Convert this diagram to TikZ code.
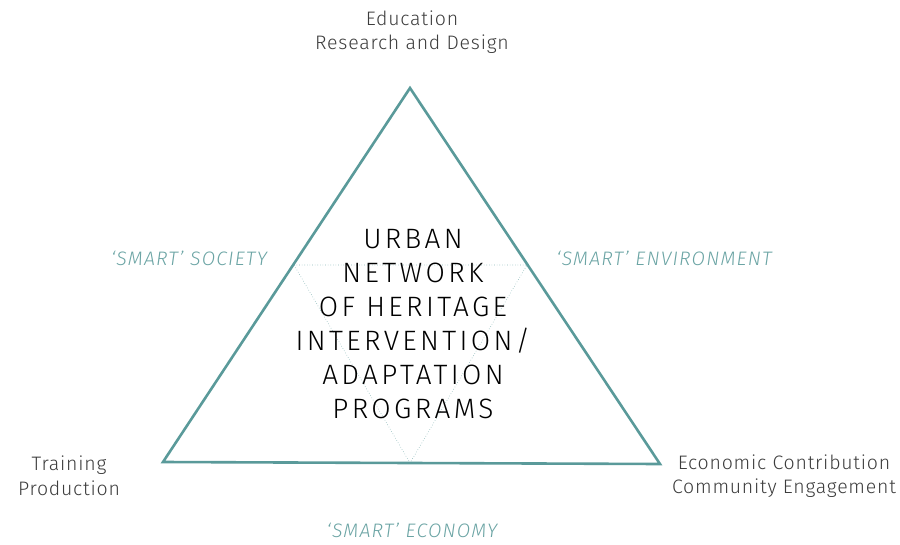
\documentclass[tikz,border=0pt]{standalone}
\usepackage{fontspec}
\setmainfont{Fira Sans}[UprightFont=* Light, ItalicFont=* Light Italic]
\definecolor{cTeal}{HTML}{5A9A9A}
\definecolor{cText}{HTML}{3C3C3C}

\begin{document}
\begin{tikzpicture}[x=1pt, y=-1pt,
    every node/.style={inner sep=0pt, outer sep=0pt},
    corner/.style={align=center, text=cText,
                   font=\fontsize{19.5}{24.5}\selectfont\addfontfeatures{LetterSpace=4}},
    smart/.style ={text=cTeal!90,
                   font=\fontsize{19.5}{22}\selectfont\itshape\addfontfeatures{LetterSpace=6}},
    hub/.style   ={align=center, text=black,
                   font=\fontsize{28}{34}\selectfont\addfontfeatures{LetterSpace=12}},
    outer/.style ={draw=cTeal, line width=2.6pt, line join=miter},
    inner/.style ={draw=cTeal!70, line width=.6pt, dotted}]

\useasboundingbox (0,0) rectangle (900,544);

% ── triangle corners ────────────────────────────────────────────────────
\coordinate (top)   at (410,88);
\coordinate (left)  at (163,462);
\coordinate (right) at (660,464);
\coordinate (il)    at (294,265);
\coordinate (ir)    at (527,265);
\coordinate (ib)    at (410,463);

\draw[inner] (il) -- (ir) -- (ib) -- cycle;
\draw[outer] (top) -- (right) -- (left) -- cycle;

% ── corner labels ───────────────────────────────────────────────────────
\node[corner] (edu)  at (412,32)  {Education\\Research and Design};
\node[corner] (trn)  at (69,476)  {Training\\Production};
\node[corner] (eco)  at (784,476) {Economic Contribution\\Community Engagement};

% ── side labels ─────────────────────────────────────────────────────────
\node[smart] (soc) at (189,258) {‘SMART’ SOCIETY};
\node[smart] (env) at (664,258) {‘SMART’ ENVIRONMENT};
\node[smart] (ecn) at (412,530) {‘SMART’ ECONOMY};

% ── centre ──────────────────────────────────────────────────────────────
\node[hub] (urb) at (413,324)
  {URBAN\\NETWORK\\OF HERITAGE\\INTERVENTION/\\ADAPTATION\\PROGRAMS};
\end{tikzpicture}
\end{document}
